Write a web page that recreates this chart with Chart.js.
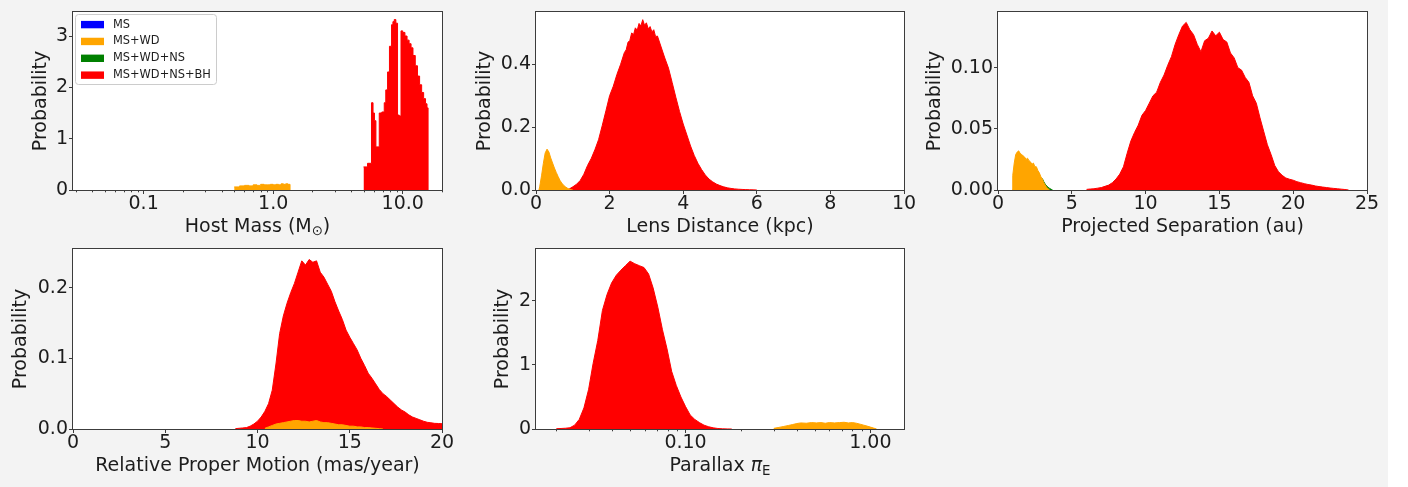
<!DOCTYPE html>
<html>
<head>
<meta charset="utf-8">
<script src="https://cdn.jsdelivr.net/npm/chart.js@4.4.0/dist/chart.umd.min.js"></script>
<style>
html,body{margin:0;padding:0;background:#ffffff;width:1408px;height:487px;overflow:hidden;}
#bg{position:absolute;left:0;top:0;width:1388px;height:487px;background:#f3f3f3;}
canvas{position:absolute;}
</style>
</head>
<body>
<div id="bg"></div>
<canvas id="p1"></canvas>
<canvas id="p2"></canvas>
<canvas id="p3"></canvas>
<canvas id="p4"></canvas>
<canvas id="p5"></canvas>
<script>
// ---------------- series names / colours ----------------
const seriesLabels = ['MS', 'MS+WD', 'MS+WD+NS', 'MS+WD+NS+BH'];
const seriesColors = ['#0000ff', '#ffa500', '#008000', '#ff0000'];

// ---------------- Host mass (log x, step histogram) ----------------
const massMsX = [];
const massMsY = [];
const massWdX = [0.50,0.55,0.60,0.65,0.70,0.75,0.80,0.85,0.90,0.95,1.00,1.05,1.10,1.15,1.20,1.25,1.30,1.35];
const massWdY = [0.06,0.08,0.09,0.08,0.10,0.09,0.11,0.10,0.10,0.11,0.10,0.11,0.10,0.12,0.11,0.12,0.11,0];
const massNsX = [];
const massNsY = [];
const massBhX = [4.98,5.35,5.74,5.9,6.05,6.21,6.59,6.9,7.2,7.4,7.64,7.9,8.2,8.4,8.6,8.85,9.12,9.4,9.7,10.0,10.4,10.8,11.2,11.6,12.0,12.5,13.0,13.5,14.0,14.5,15.0,15.4,15.7];
const massBhY = [0.45,0.52,1.70,1.50,1.35,0.84,1.50,1.52,1.70,1.95,2.30,2.80,3.22,3.28,3.32,3.25,1.46,1.44,3.10,3.07,3.00,2.92,2.85,2.77,2.62,2.42,2.22,2.05,1.90,1.78,1.68,1.60,0];
const massXTicks = [0.1, 1, 10];
const massXTickLabels = ['0.1', '1.0', '10.0'];
const massXMinorTicks = [0.03,0.04,0.05,0.06,0.07,0.08,0.09,0.2,0.3,0.4,0.5,0.6,0.7,0.8,0.9,2,3,4,5,6,7,8,9,20];
const massYTicks = [0, 1, 2, 3];
const massYTickLabels = ['0', '1', '2', '3'];

// ---------------- Lens distance ----------------
const distMsX = [];
const distMsY = [];
const distWdX = [0.08,0.10,0.15,0.20,0.25,0.30,0.35,0.40,0.45,0.50,0.55,0.60,0.65,0.70,0.75,0.80,0.85,0.90,0.95,1.00];
const distWdY = [0,0.010,0.045,0.085,0.118,0.130,0.121,0.102,0.086,0.070,0.056,0.043,0.031,0.022,0.015,0.010,0.006,0.003,0.001,0];
const distNsX = [];
const distNsY = [];
const distBhX = [0.9,1.0,1.1,1.2,1.3,1.4,1.5,1.6,1.7,1.8,1.9,2.0,2.1,2.2,2.3,2.4,2.45,2.5,2.55,2.6,2.65,2.7,2.75,2.8,2.85,2.9,2.95,3.0,3.05,3.1,3.15,3.2,3.25,3.3,3.4,3.5,3.6,3.7,3.8,3.9,4.0,4.1,4.2,4.3,4.4,4.5,4.6,4.7,4.8,4.9,5.0,5.1,5.2,5.3,5.4,5.5,5.6,5.7,5.8,5.9,6.0];
const distBhY = [0.003,0.010,0.018,0.030,0.050,0.078,0.100,0.128,0.160,0.205,0.252,0.300,0.330,0.368,0.400,0.437,0.446,0.470,0.476,0.500,0.494,0.516,0.508,0.530,0.522,0.542,0.524,0.532,0.513,0.520,0.503,0.510,0.488,0.490,0.455,0.420,0.388,0.342,0.295,0.250,0.210,0.175,0.140,0.110,0.085,0.065,0.048,0.035,0.026,0.019,0.014,0.010,0.007,0.005,0.0035,0.0025,0.0018,0.0012,0.0008,0.0004,0];
const distXTicks = [0, 2, 4, 6, 8, 10];
const distXTickLabels = ['0', '2', '4', '6', '8', '10'];
const distYTicks = [0, 0.2, 0.4];
const distYTickLabels = ['0.0', '0.2', '0.4'];

// ---------------- Projected separation ----------------
const sepMsX = [];
const sepMsY = [];
const sepWdX = [0.95,1.0,1.1,1.2,1.3,1.4,1.5,1.6,1.7,1.8,1.9,2.0,2.1,2.2,2.3,2.4,2.5,2.6,2.7,2.8,2.9,3.0,3.1,3.2,3.3,3.4,3.5];
const sepWdY = [0,0.012,0.022,0.029,0.031,0.032,0.030,0.029,0.028,0.027,0.025,0.026,0.024,0.023,0.021,0.022,0.019,0.019,0.016,0.014,0.011,0.009,0.006,0.004,0.002,0.001,0];
const sepNsX = [3.0,3.1,3.2,3.3,3.4,3.5,3.6,3.7];
const sepNsY = [0.0095,0.0068,0.0048,0.0032,0.0022,0.0013,0.0006,0];
const sepBhX = [6.00,6.25,6.50,6.75,7.00,7.25,7.50,7.75,8.00,8.25,8.50,8.75,9.00,9.25,9.50,9.75,10.00,10.25,10.50,10.75,11.00,11.25,11.50,11.75,12.00,12.25,12.50,12.75,13.00,13.25,13.50,13.75,14.00,14.25,14.50,14.75,15.00,15.25,15.50,15.75,16.00,16.25,16.50,16.75,17.00,17.25,17.50,17.75,18.00,18.25,18.50,18.75,19.00,19.25,19.50,19.75,20.00,20.25,20.50,20.75,21.00,21.25,21.50,21.75,22.00,22.25,22.50,22.75,23.00,23.25,23.50,23.75];
const sepBhY = [0.0005,0.0008,0.0010,0.0015,0.0020,0.0030,0.0040,0.0060,0.0090,0.0130,0.0190,0.0300,0.0400,0.0470,0.0530,0.0610,0.0650,0.0710,0.0770,0.0800,0.0880,0.0940,0.1020,0.1090,0.1190,0.1270,0.1340,0.1370,0.1310,0.1270,0.1190,0.1130,0.1220,0.1240,0.1300,0.1260,0.1290,0.1230,0.1210,0.1120,0.1080,0.1000,0.0980,0.0920,0.0880,0.0770,0.0710,0.0590,0.0480,0.0370,0.0290,0.0200,0.0150,0.0120,0.0098,0.0088,0.0080,0.0068,0.0060,0.0052,0.0045,0.0040,0.0033,0.0028,0.0024,0.0020,0.0016,0.0013,0.0010,0.0007,0.0004,0];
const sepXTicks = [0, 5, 10, 15, 20, 25];
const sepXTickLabels = ['0', '5', '10', '15', '20', '25'];
const sepYTicks = [0, 0.05, 0.10];
const sepYTickLabels = ['0.00', '0.05', '0.10'];

// ---------------- Relative proper motion ----------------
const pmMsX = [];
const pmMsY = [];
const pmWdX = [10.4,10.6,10.8,11.0,11.2,11.4,11.6,11.8,12.0,12.2,12.4,12.6,12.8,13.0,13.2,13.4,13.6,13.8,14.0,14.2,14.4,14.6,14.8,15.0,15.2,15.4,15.6,15.8,16.0,16.2,16.4,16.6,16.8];
const pmWdY = [0.001,0.003,0.005,0.007,0.008,0.009,0.010,0.011,0.012,0.012,0.011,0.011,0.010,0.011,0.012,0.010,0.009,0.009,0.008,0.007,0.006,0.006,0.005,0.004,0.004,0.003,0.003,0.002,0.002,0.0015,0.001,0.0005,0];
const pmNsX = [];
const pmNsY = [];
const pmBhX = [8.8,9.0,9.2,9.4,9.6,9.8,10.0,10.2,10.4,10.6,10.8,11.0,11.2,11.4,11.6,11.8,12.0,12.2,12.4,12.6,12.8,13.0,13.2,13.4,13.6,13.8,14.0,14.2,14.4,14.6,14.8,15.0,15.2,15.4,15.6,15.8,16.0,16.2,16.4,16.6,16.8,17.0,17.2,17.4,17.6,17.8,18.0,18.2,18.4,18.6,18.8,19.0,19.2,19.4,19.6,19.8,20.0];
const pmBhY = [0.0005,0.001,0.0015,0.002,0.004,0.007,0.011,0.017,0.025,0.036,0.055,0.092,0.135,0.160,0.178,0.193,0.206,0.222,0.238,0.232,0.240,0.236,0.238,0.222,0.215,0.205,0.195,0.180,0.167,0.155,0.140,0.130,0.121,0.112,0.100,0.090,0.079,0.072,0.064,0.056,0.050,0.046,0.041,0.036,0.031,0.027,0.024,0.020,0.017,0.015,0.013,0.011,0.0095,0.0088,0.0080,0.0078,0.0075];
const pmXTicks = [0, 5, 10, 15, 20];
const pmXTickLabels = ['0', '5', '10', '15', '20'];
const pmYTicks = [0, 0.1, 0.2];
const pmYTickLabels = ['0.0', '0.1', '0.2'];

// ---------------- Parallax (log x) ----------------
const plxMsX = [];
const plxMsY = [];
const plxWdX = [0.30,0.32,0.34,0.36,0.38,0.40,0.42,0.45,0.48,0.51,0.54,0.57,0.60,0.64,0.68,0.72,0.76,0.80,0.84,0.88,0.92,0.96,1.00,1.04,1.08];
const plxWdY = [0.010,0.025,0.040,0.055,0.070,0.085,0.095,0.090,0.100,0.095,0.100,0.090,0.100,0.095,0.100,0.105,0.095,0.100,0.090,0.075,0.060,0.045,0.030,0.015,0];
const plxNsX = [];
const plxNsY = [];
const plxBhX = [0.0200,0.0212,0.0224,0.0237,0.0251,0.0266,0.0282,0.0299,0.0316,0.0335,0.0355,0.0376,0.0398,0.0422,0.0447,0.0473,0.0501,0.0531,0.0562,0.0596,0.0631,0.0668,0.0708,0.0750,0.0794,0.0841,0.0891,0.0944,0.1000,0.1059,0.1122,0.1189,0.1259,0.1334,0.1413,0.1496,0.1585,0.1679,0.1778];
const plxBhY = [0.005,0.008,0.012,0.020,0.060,0.150,0.330,0.620,1.020,1.380,1.850,2.100,2.280,2.400,2.480,2.550,2.620,2.580,2.550,2.520,2.420,2.200,1.900,1.550,1.250,0.900,0.680,0.500,0.350,0.220,0.150,0.100,0.060,0.035,0.018,0.008,0.003,0.001,0];
const plxXTicks = [0.1, 1];
const plxXTickLabels = ['0.10', '1.00'];
const plxXMinorTicks = [0.02,0.03,0.04,0.05,0.06,0.07,0.08,0.09,0.2,0.3,0.4,0.5,0.6,0.7,0.8,0.9];
const plxYTicks = [0, 1, 2];
const plxYTickLabels = ['0', '1', '2'];

// ---------------- layout & style ----------------
const FONT = 'DejaVu Sans';
const TEXT = '#1c1c1c';
const SPINE = '#3c3c3c';
const FS = 19;

const panels = [
  { id:'p1', box:{left:0, top:0, width:460, height:245}, area:{l:73, t:12, r:442, b:190}, yMid:40.6, xMid:226.7,
    xType:'logarithmic', xMin:0.0285, xMax:20.1, yMax:3.468, stepped:true,
    series:[[massMsX,massMsY],[massWdX,massWdY],[massNsX,massNsY],[massBhX,massBhY]],
    xTicks:massXTicks, xTickLabels:massXTickLabels, xMinor:massXMinorTicks, yTicks:massYTicks, yTickLabels:massYTickLabels,
    rich:[{text:'Host Mass (M'},{text:'\u2299', size:13.3, dy:5.3},{text:')'}], legend:true },
  { id:'p2', box:{left:460, top:0, width:460, height:245}, area:{l:536, t:12, r:904, b:190}, yMid:484.8, xMid:226.7,
    xType:'linear', xMin:0, xMax:10, yMax:0.5664, stepped:false,
    series:[[distMsX,distMsY],[distWdX,distWdY],[distNsX,distNsY],[distBhX,distBhY]],
    xTicks:distXTicks, xTickLabels:distXTickLabels, yTicks:distYTicks, yTickLabels:distYTickLabels,
    xTitle:'Lens Distance (kpc)' },
  { id:'p3', box:{left:920, top:0, width:468, height:245}, area:{l:998, t:12, r:1367, b:190}, yMid:934.8, xMid:226.7,
    xType:'linear', xMin:0, xMax:25, yMax:0.1455, stepped:false,
    series:[[sepMsX,sepMsY],[sepWdX,sepWdY],[sepNsX,sepNsY],[sepBhX,sepBhY]],
    xTicks:sepXTicks, xTickLabels:sepXTickLabels, yTicks:sepYTicks, yTickLabels:sepYTickLabels,
    xTitle:'Projected Separation (au)' },
  { id:'p4', box:{left:0, top:245, width:460, height:242}, area:{l:73, t:249, r:442, b:429}, yMid:21.4, xMid:465.7,
    xType:'linear', xMin:0, xMax:20, yMax:0.2548, stepped:false,
    series:[[pmMsX,pmMsY],[pmWdX,pmWdY],[pmNsX,pmNsY],[pmBhX,pmBhY]],
    xTicks:pmXTicks, xTickLabels:pmXTickLabels, yTicks:pmYTicks, yTickLabels:pmYTickLabels,
    xTitle:'Relative Proper Motion (mas/year)' },
  { id:'p5', box:{left:460, top:245, width:460, height:242}, area:{l:536, t:249, r:904, b:429}, yMid:503.1, xMid:465.7,
    xType:'logarithmic', xMin:0.01552, xMax:1.52, yMax:2.81, stepped:false,
    series:[[plxMsX,plxMsY],[plxWdX,plxWdY],[plxNsX,plxNsY],[plxBhX,plxBhY]],
    xTicks:plxXTicks, xTickLabels:plxXTickLabels, xMinor:plxXMinorTicks, yTicks:plxYTicks, yTickLabels:plxYTickLabels,
    rich:[{text:'Parallax '},{text:'\u03c0', italic:true},{text:'E', size:13.3, dy:6}] }
];

function toPoints(xs, ys) { return xs.map((x, i) => ({x: x, y: ys[i]})); }

const framePlugin = {
  id: 'frame',
  beforeDraw(chart) {
    const a = chart.chartArea, ctx = chart.ctx;
    ctx.save();
    ctx.fillStyle = '#ffffff';
    ctx.fillRect(a.left, a.top, a.right - a.left, a.bottom - a.top);
    ctx.restore();
  },
  afterDraw(chart) {
    const a = chart.chartArea, ctx = chart.ctx;
    const spec = chart.options.plugins.frame;
    ctx.save();
    if (spec.minor) {
      const xs = chart.scales.x;
      ctx.strokeStyle = SPINE; ctx.lineWidth = 1;
      spec.minor.forEach(v => {
        const px = Math.round(xs.getPixelForValue(v)) + 0.5;
        ctx.beginPath(); ctx.moveTo(px, a.bottom); ctx.lineTo(px, a.bottom + 2.3); ctx.stroke();
      });
    }
    ctx.strokeStyle = SPINE; ctx.lineWidth = 1;
    const l = Math.round(a.left) - 0.5, t = Math.round(a.top) - 0.5;
    ctx.strokeRect(l, t, Math.round(a.right) - Math.round(a.left) + 1, Math.round(a.bottom) - Math.round(a.top) + 1);
    if (spec.rich) {
      let total = 0;
      const fontOf = s => (s.italic ? 'italic ' : '') + (s.size || FS) + 'px "' + FONT + '"';
      spec.rich.forEach(s => { ctx.font = fontOf(s); s.w = ctx.measureText(s.text).width; total += s.w; });
      let x = (a.left + a.right) / 2 - total / 2;
      ctx.fillStyle = TEXT; ctx.textAlign = 'left'; ctx.textBaseline = 'middle';
      spec.rich.forEach(s => { ctx.font = fontOf(s); ctx.fillText(s.text, x, spec.richY + (s.dy || 0)); x += s.w; });
    }
    if (spec.legend) {
      const fx = 75.5, fy = 14.5, fw = 141, fh = 70, r = 3;
      ctx.beginPath();
      ctx.moveTo(fx + r, fy); ctx.lineTo(fx + fw - r, fy); ctx.arcTo(fx + fw, fy, fx + fw, fy + r, r);
      ctx.lineTo(fx + fw, fy + fh - r); ctx.arcTo(fx + fw, fy + fh, fx + fw - r, fy + fh, r);
      ctx.lineTo(fx + r, fy + fh); ctx.arcTo(fx, fy + fh, fx, fy + fh - r, r);
      ctx.lineTo(fx, fy + r); ctx.arcTo(fx, fy, fx + r, fy, r); ctx.closePath();
      ctx.fillStyle = 'rgba(255,255,255,0.8)'; ctx.fill();
      ctx.strokeStyle = '#cccccc'; ctx.stroke();
      ctx.font = '11.4px "' + FONT + '"'; ctx.textBaseline = 'middle'; ctx.textAlign = 'left';
      chart.data.datasets.forEach((ds, i) => {
        const cy = 24.6 + i * 16.85;
        ctx.fillStyle = ds.backgroundColor;
        ctx.fillRect(81, cy - 3.7, 23, 7.4);
        ctx.fillStyle = TEXT;
        ctx.fillText(ds.label, 113, cy);
      });
    }
    ctx.restore();
  }
};

panels.forEach(p => {
  const el = document.getElementById(p.id);
  el.width = p.box.width; el.height = p.box.height;
  el.style.left = p.box.left + 'px'; el.style.top = p.box.top + 'px';
  el.style.width = p.box.width + 'px'; el.style.height = p.box.height + 'px';
  const a = p.area;
  const yW = a.l - p.box.left;
  const xH = p.box.top + p.box.height - a.b;
  const zeroPad = s => { s.paddingLeft = 0; s.paddingRight = 0; s.paddingTop = 0; s.paddingBottom = 0; };
  new Chart(el, {
    type: 'line',
    data: {
      datasets: p.series.map((s, i) => ({
        label: seriesLabels[i],
        data: toPoints(s[0], s[1]),
        borderColor: seriesColors[i],
        backgroundColor: seriesColors[i],
        borderWidth: 1,
        fill: 'origin',
        stepped: p.stepped,
        tension: 0,
        pointRadius: 0,
        pointHoverRadius: 0
      }))
    },
    options: {
      responsive: false,
      animation: false,
      events: [],
      layout: { padding: { left: 0, top: a.t - p.box.top, right: p.box.left + p.box.width - a.r, bottom: 0 } },
      plugins: {
        legend: { display: false },
        tooltip: { enabled: false },
        frame: { minor: p.xMinor, rich: p.rich, richY: p.xMid - p.box.top, legend: !!p.legend }
      },
      scales: {
        x: {
          type: p.xType, min: p.xMin, max: p.xMax,
          afterBuildTicks: s => { s.ticks = p.xTicks.map(v => ({ value: v })); },
          afterFit: s => { s.height = xH; zeroPad(s); },
          ticks: { autoSkip: false, maxRotation: 0, minRotation: 0, padding: 1, color: TEXT,
                   font: { family: FONT, size: FS, lineHeight: 1 },
                   callback: (v, i) => p.xTickLabels[i] },
          grid: { drawOnChartArea: false, drawTicks: true, tickLength: 4, tickColor: SPINE, tickWidth: 1 },
          border: { display: false },
          title: { display: !p.rich, text: p.xTitle || '', color: TEXT,
                   font: { family: FONT, size: FS, lineHeight: 1 },
                   padding: { top: 0, bottom: p.box.top + p.box.height - p.xMid - FS / 2 } }
        },
        y: {
          type: 'linear', min: 0, max: p.yMax,
          afterBuildTicks: s => { s.ticks = p.yTicks.map(v => ({ value: v })); },
          afterFit: s => { s.width = yW; zeroPad(s); },
          ticks: { autoSkip: false, padding: 1, color: TEXT,
                   font: { family: FONT, size: FS, lineHeight: 1 },
                   callback: (v, i) => p.yTickLabels[i] },
          grid: { drawOnChartArea: false, drawTicks: true, tickLength: 4, tickColor: SPINE, tickWidth: 1 },
          border: { display: false },
          title: { display: true, text: 'Probability', color: TEXT,
                   font: { family: FONT, size: FS, lineHeight: 1 },
                   padding: { top: p.yMid - p.box.left - FS / 2, bottom: 0 } }
        }
      }
    },
    plugins: [framePlugin]
  });
});
</script>
</body>
</html>
